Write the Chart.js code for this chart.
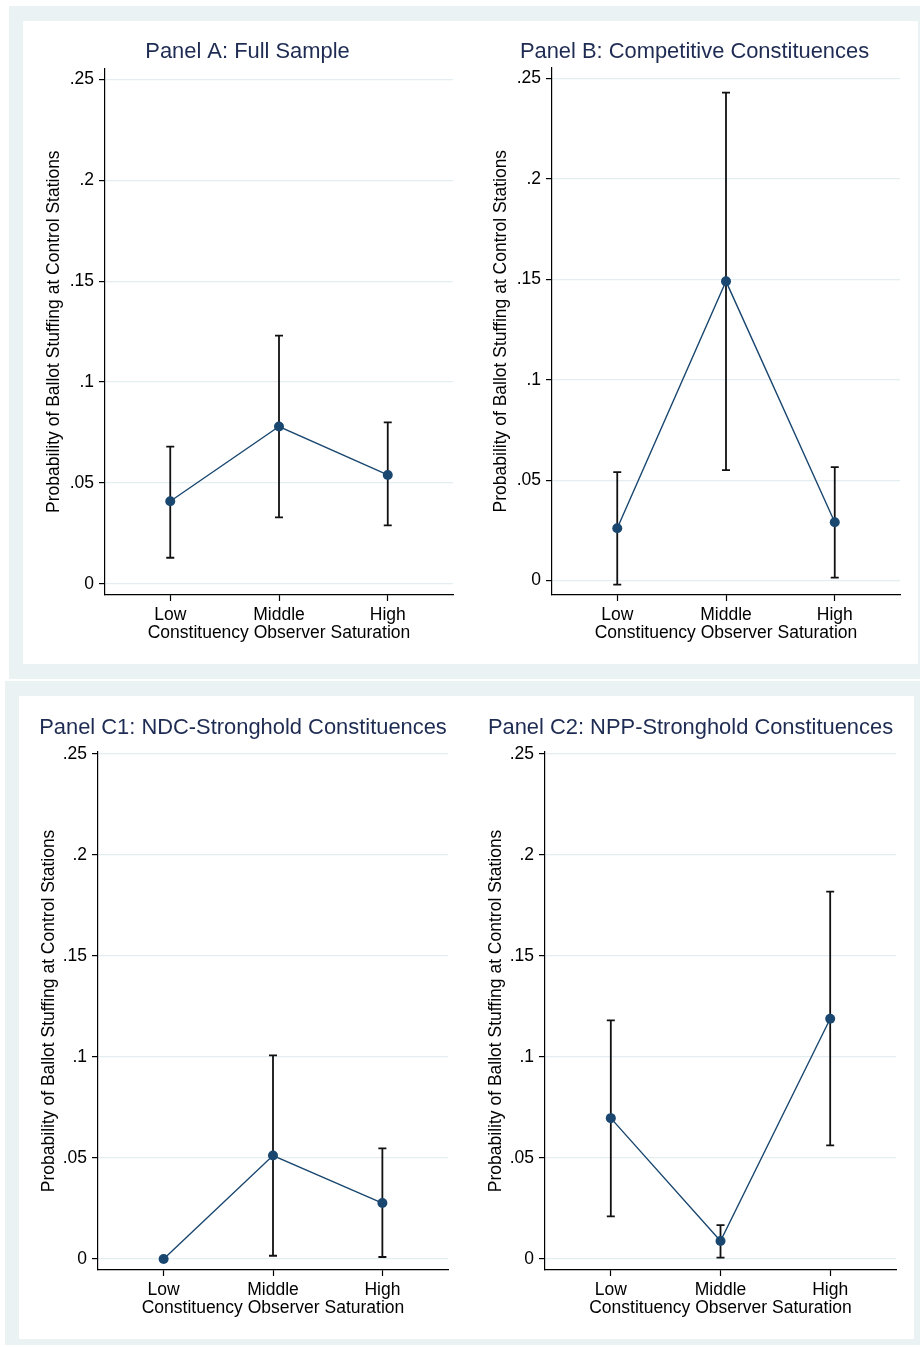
<!DOCTYPE html>
<html>
<head>
<meta charset="UTF-8">
<title>Ballot stuffing by observer saturation</title>
<script src="https://cdn.jsdelivr.net/npm/chart.js"></script>
<style>
  body { margin: 0; background: #fff; width: 920px; height: 1347px; position: relative; overflow: hidden; }
  .outer { position: absolute; background: #eaf2f3; }
  .inner { position: absolute; background: #fff; }
  canvas { position: absolute; }
</style>
</head>
<body>
<div class="outer" style="left:9px;top:6px;width:911px;height:673px"></div>
<div class="inner" style="left:23px;top:21px;width:895px;height:643px"></div>
<div class="outer" style="left:5px;top:681px;width:915px;height:664px"></div>
<div class="inner" style="left:19px;top:696px;width:895px;height:643px"></div>

<canvas id="panelA" width="447" height="643" style="left:24px;top:21px"></canvas>
<canvas id="panelB" width="447" height="643" style="left:471px;top:21px"></canvas>
<canvas id="panelC1" width="448" height="643" style="left:19px;top:696px"></canvas>
<canvas id="panelC2" width="447" height="643" style="left:467px;top:696px"></canvas>

<script>
// categories and tick labels
const categories = ['Low', 'Middle', 'High'];
const yTicks = [0, 0.05, 0.1, 0.15, 0.2, 0.25];

// Panel A: full sample
const estA = [0.041, 0.078, 0.054];
const loA  = [0.013, 0.033, 0.029];
const hiA  = [0.068, 0.123, 0.080];

// Panel B: competitive
const estB = [0.026, 0.149, 0.029];
const loB  = [-0.002, 0.055, 0.0015];
const hiB  = [0.054, 0.243, 0.0565];

// Panel C1: NDC strongholds
const estC1 = [0.0, 0.0512, 0.0277];
const loC1  = [0.0, 0.0016, 0.001];
const hiC1  = [0.0, 0.1008, 0.0547];

// Panel C2: NPP strongholds
const estC2 = [0.0697, 0.0089, 0.1189];
const loC2  = [0.0211, 0.0007, 0.0562];
const hiC2  = [0.1181, 0.0168, 0.1818];

const FONT = "'Liberation Sans', Arial, Helvetica, sans-serif";
const NAVY = '#1a476f';

// draws the confidence interval whiskers behind the points
const ciBars = {
    id: 'ciBars',
    beforeDatasetsDraw(chart, args, opts) {
        const ctx = chart.ctx;
        const x = chart.scales.x, y = chart.scales.y;
        ctx.save();
        ctx.strokeStyle = '#111';
        ctx.lineWidth = 1.8;
        opts.lo.forEach((lo, i) => {
            const px = x.getPixelForValue(i + 1);
            const y0 = y.getPixelForValue(lo);
            const y1 = y.getPixelForValue(opts.hi[i]);
            ctx.beginPath();
            ctx.moveTo(px, y0); ctx.lineTo(px, y1);
            ctx.moveTo(px - 4, y0); ctx.lineTo(px + 4, y0);
            ctx.moveTo(px - 4, y1); ctx.lineTo(px + 4, y1);
            ctx.stroke();
        });
        ctx.restore();
    }
};

// side padding is equal on both sides so the title stays centred on the canvas
function makePanel(id, title, est, lo, hi, lay) {
    const side = lay.side;
    new Chart(document.getElementById(id), {
        type: 'line',
        data: {
            datasets: [{
                data: est.map((v, i) => ({ x: i + 1, y: v })),
                borderColor: NAVY,
                backgroundColor: NAVY,
                borderWidth: 1.4,
                pointRadius: 5,
                pointBorderWidth: 0,
                tension: 0
            }]
        },
        options: {
            responsive: false,
            animation: false,
            layout: { padding: { left: side, right: side, top: 0, bottom: 0 } },
            plugins: {
                legend: { display: false },
                tooltip: { enabled: false },
                title: {
                    display: true,
                    text: title,
                    color: '#1e2b52',
                    font: { family: FONT, size: 21.9, weight: 'normal', lineHeight: 1.2 },
                    padding: { top: lay.tTop, bottom: lay.tBot }
                },
                ciBars: { lo: lo, hi: hi }
            },
            scales: {
                x: {
                    type: 'linear',
                    min: 0.4,
                    max: 3.6,
                    afterBuildTicks: s => { s.ticks = categories.map((c, i) => ({ value: i + 1 })); },
                    afterFit: s => { s.height = 69; },
                    ticks: {
                        color: '#000',
                        padding: 4.5,
                        font: { family: FONT, size: 17.5, lineHeight: 1.1 },
                        callback: v => categories[v - 1]
                    },
                    grid: { drawOnChartArea: false, tickLength: 6, tickColor: '#000', tickWidth: 1.2 },
                    border: { color: '#000', width: 1.2 },
                    title: {
                        display: true,
                        text: 'Constituency Observer Saturation',
                        color: '#000',
                        font: { family: FONT, size: 17.5, lineHeight: 1.1 },
                        padding: { top: 0, bottom: 21 }
                    }
                },
                y: {
                    min: lay.yMin,
                    max: lay.yMax,
                    afterBuildTicks: s => { s.ticks = yTicks.map(v => ({ value: v })); },
                    afterFit: s => { s.width = lay.yW - side; },
                    ticks: {
                        color: '#000',
                        padding: 5,
                        font: { family: FONT, size: 17.5 },
                        callback: v => v === 0 ? '0' : String(v).replace(/^0/, '')
                    },
                    grid: { color: '#e4eef0', lineWidth: 1.2, tickLength: 6, tickColor: '#000', tickWidth: 1.2 },
                    border: { color: '#000', width: 1.2 },
                    title: {
                        display: true,
                        text: 'Probability of Ballot Stuffing at Control Stations',
                        color: '#000',
                        font: { family: FONT, size: 17.5, lineHeight: 1.1 },
                        padding: { top: Math.max(lay.yTitle - side, 0), bottom: 0 }
                    }
                }
            }
        },
        plugins: [ciBars]
    });
}

makePanel('panelA', 'Panel A: Full Sample', estA, loA, hiA,
    { side: 18, tTop: 18, tBot: 3, yW: 81, yMin: -0.00545, yMax: 0.2554, yTitle: 20.5 });
makePanel('panelB', 'Panel B: Competitive Constituences', estB, loB, hiB,
    { side: 18, tTop: 18, tBot: 2, yW: 81, yMin: -0.0072, yMax: 0.2556, yTitle: 20.5 });
makePanel('panelC1', 'Panel C1: NDC-Stronghold Constituences', estC1, loC1, hiC1,
    { side: 19, tTop: 19, tBot: 10.5, yW: 79, yMin: -0.00544, yMax: 0.251, yTitle: 20.5 });
makePanel('panelC2', 'Panel C2: NPP-Stronghold Constituences', estC2, loC2, hiC2,
    { side: 18, tTop: 19, tBot: 10.5, yW: 78, yMin: -0.00544, yMax: 0.251, yTitle: 20 });
</script>
</body>
</html>
